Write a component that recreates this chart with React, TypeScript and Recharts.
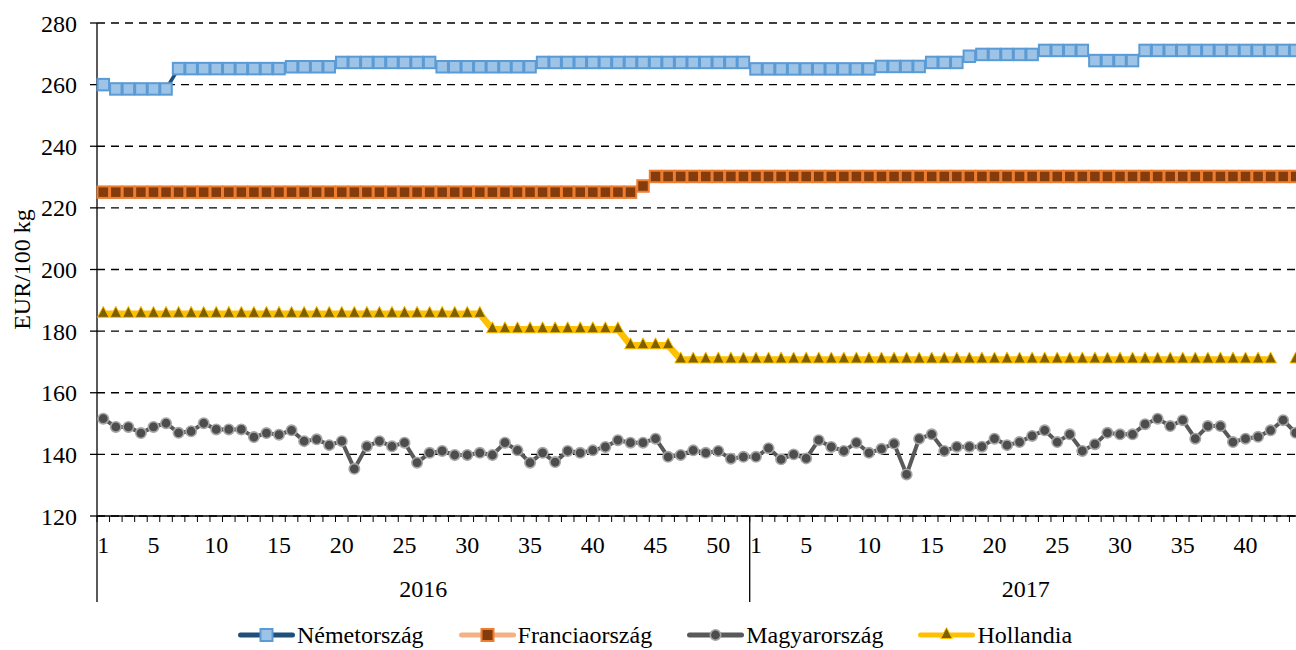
import React from 'react';
import { LineChart, Line, XAxis, YAxis, CartesianGrid, Legend } from 'recharts';

// ---- data ----
const years = [2016, 2017];
const weeks2016 = [1,2,3,4,5,6,7,8,9,10,11,12,13,14,15,16,17,18,19,20,21,22,23,24,25,26,27,28,29,30,31,32,33,34,35,36,37,38,39,40,41,42,43,44,45,46,47,48,49,50,51,52];
const weeks2017 = [1,2,3,4,5,6,7,8,9,10,11,12,13,14,15,16,17,18,19,20,21,22,23,24,25,26,27,28,29,30,31,32,33,34,35,36,37,38,39,40,41,42,43,44];
const weekLabels = [1, 5, 10, 15, 20, 25, 30, 35, 40, 45, 50];
const yTicks = [120, 140, 160, 180, 200, 220, 240, 260, 280];

const nemetorszag = [
  260, 258.6, 258.6, 258.6, 258.6, 258.6, 265.2, 265.2, 265.2, 265.2,
  265.2, 265.2, 265.2, 265.2, 265.2, 265.8, 265.8, 265.8, 265.8, 267.2,
  267.2, 267.2, 267.2, 267.2, 267.2, 267.2, 267.2, 265.8, 265.8, 265.8,
  265.8, 265.8, 265.8, 265.8, 265.8, 267.2, 267.2, 267.2, 267.2, 267.2,
  267.2, 267.2, 267.2, 267.2, 267.2, 267.2, 267.2, 267.2, 267.2, 267.2,
  267.2, 267.2,
  265.1, 265.1, 265.1, 265.1, 265.1, 265.1, 265.1, 265.1, 265.1, 265.1,
  265.9, 265.9, 265.9, 265.9, 267.2, 267.2, 267.2, 269.2, 269.8, 269.8,
  269.8, 269.8, 269.8, 271.1, 271.1, 271.1, 271.1, 267.8, 267.8, 267.8,
  267.8, 271.1, 271.1, 271.1, 271.1, 271.1, 271.1, 271.1, 271.1, 271.1,
  271.1, 271.1, 271.1, 271.1,
];
const franciaorszag = [
  225.1, 225.1, 225.1, 225.1, 225.1, 225.1, 225.1, 225.1, 225.1, 225.1,
  225.1, 225.1, 225.1, 225.1, 225.1, 225.1, 225.1, 225.1, 225.1, 225.1,
  225.1, 225.1, 225.1, 225.1, 225.1, 225.1, 225.1, 225.1, 225.1, 225.1,
  225.1, 225.1, 225.1, 225.1, 225.1, 225.1, 225.1, 225.1, 225.1, 225.1,
  225.1, 225.1, 225.1, 227.1, 230.2, 230.2, 230.2, 230.2, 230.2, 230.2,
  230.2, 230.2,
  230.2, 230.2, 230.2, 230.2, 230.2, 230.2, 230.2, 230.2, 230.2, 230.2,
  230.2, 230.2, 230.2, 230.2, 230.2, 230.2, 230.2, 230.2, 230.2, 230.2,
  230.2, 230.2, 230.2, 230.2, 230.2, 230.2, 230.2, 230.2, 230.2, 230.2,
  230.2, 230.2, 230.2, 230.2, 230.2, 230.2, 230.2, 230.2, 230.2, 230.2,
  230.2, 230.2, 230.2, 230.2,
];
const magyarorszag = [
  151.6, 148.9, 148.9, 146.9, 148.9, 150.1, 147.0, 147.5, 150.1, 148.1,
  148.1, 148.1, 145.6, 146.9, 146.4, 147.8, 144.3, 144.9, 143.0, 144.3,
  135.3, 142.6, 144.3, 142.6, 143.8, 137.3, 140.5, 141.1, 139.8, 139.8,
  140.5, 139.8, 143.8, 141.3, 137.3, 140.5, 137.5, 141.1, 140.5, 141.3,
  142.4, 144.6, 143.8, 143.8, 145.1, 139.2, 139.8, 141.3, 140.5, 141.1,
  138.6, 139.2,
  139.2, 142.0, 138.4, 140.0, 138.7, 144.6, 142.4, 141.1, 143.8, 140.5,
  141.8, 143.5, 133.5, 145.1, 146.5, 141.1, 142.5, 142.5, 142.5, 145.1,
  143.0, 144.0, 146.0, 147.8, 144.0, 146.5, 141.1, 143.3, 147.0, 146.5,
  146.5, 149.8, 151.6, 149.2, 151.1, 145.1, 149.2, 149.2, 144.0, 145.1,
  145.7, 147.8, 151.1, 147.0,
];
const hollandia: (number | null)[] = [
  185.6, 185.6, 185.6, 185.6, 185.6, 185.6, 185.6, 185.6, 185.6, 185.6,
  185.6, 185.6, 185.6, 185.6, 185.6, 185.6, 185.6, 185.6, 185.6, 185.6,
  185.6, 185.6, 185.6, 185.6, 185.6, 185.6, 185.6, 185.6, 185.6, 185.6,
  185.6, 180.6, 180.6, 180.6, 180.6, 180.6, 180.6, 180.6, 180.6, 180.6,
  180.6, 180.6, 175.4, 175.4, 175.4, 175.4, 170.8, 170.8, 170.8, 170.8,
  170.8, 170.8,
  170.8, 170.8, 170.8, 170.8, 170.8, 170.8, 170.8, 170.8, 170.8, 170.8,
  170.8, 170.8, 170.8, 170.8, 170.8, 170.8, 170.8, 170.8, 170.8, 170.8,
  170.8, 170.8, 170.8, 170.8, 170.8, 170.8, 170.8, 170.8, 170.8, 170.8,
  170.8, 170.8, 170.8, 170.8, 170.8, 170.8, 170.8, 170.8, 170.8, 170.8,
  170.8, 170.8, null, 170.8,
];

// ---- chart table built from the arrays ----
const yearWeeks = [weeks2016, weeks2017];
const rows: any[] = [];
years.forEach((yr, yi) => {
  yearWeeks[yi].forEach((w) => {
    rows.push({ key: `${yr}-${w}`, year: yr, week: w });
  });
});
rows.forEach((r, i) => {
  r.nemetorszag = nemetorszag[i];
  r.franciaorszag = franciaorszag[i];
  r.magyarorszag = magyarorszag[i];
  r.hollandia = hollandia[i];
});

const yearStart: number[] = [];
let acc = 0;
yearWeeks.forEach((ws) => { yearStart.push(acc); acc += ws.length; });

const FONT = "'Liberation Serif', 'DejaVu Serif', serif";
const FS = 24;

const CHART_W = 1304;
const CHART_H = 650;
const MARGIN = { top: 23, right: 2, left: 0, bottom: 2 };
const Y_AXIS_W = 97;
const PLOT_W = CHART_W - MARGIN.left - MARGIN.right - Y_AXIS_W;

// ---- markers ----
const squareDot = (fill: string, stroke: string) => (p: any) => {
  const { cx, cy, index } = p;
  if (cx == null || cy == null || p.value == null) return <g key={`s-${fill}-${index}`} />;
  return (
    <rect key={`s-${fill}-${index}`} x={cx - 5.75} y={cy - 5.75} width={11.5} height={11.5}
      fill={fill} stroke={stroke} strokeWidth={2} />
  );
};
const circleDot = (fill: string, stroke: string) => (p: any) => {
  const { cx, cy, index } = p;
  if (cx == null || cy == null || p.value == null) return <g key={`c-${index}`} />;
  return <circle key={`c-${index}`} cx={cx} cy={cy} r={5.2} fill={fill} stroke={stroke} strokeWidth={1.6} />;
};
const triangleDot = (fill: string, stroke: string) => (p: any) => {
  const { cx, cy, index } = p;
  if (cx == null || cy == null || p.value == null) return <g key={`t-${index}`} />;
  const pts = `${cx},${cy - 7.5} ${cx + 5.8},${cy + 3.5} ${cx - 5.8},${cy + 3.5}`;
  return <polygon key={`t-${index}`} points={pts} fill={fill} stroke={stroke} strokeWidth={1} />;
};

const series = [
  { key: 'nemetorszag', name: 'Németország', line: '#1F4E79', width: 3.5, marker: 'square', fill: '#9DC3E6', stroke: '#5B9BD5' },
  { key: 'franciaorszag', name: 'Franciaország', line: '#F4B183', width: 3.5, marker: 'square', fill: '#843C0C', stroke: '#ED7D31' },
  { key: 'magyarorszag', name: 'Magyarország', line: '#595959', width: 4, marker: 'circle', fill: '#4D4D4D', stroke: '#A6A6A6' },
  { key: 'hollandia', name: 'Hollandia', line: '#FFC000', width: 6.5, marker: 'triangle', fill: '#7F6000', stroke: '#FFC000' },
];

const dotFor = (s: any) =>
  s.marker === 'square' ? squareDot(s.fill, s.stroke)
    : s.marker === 'circle' ? circleDot(s.fill, s.stroke)
      : triangleDot(s.fill, s.stroke);

// ---- x axis tick: week tick marks, week labels, year separators and year labels ----
const XTick = (props: any) => {
  const { x, y, payload } = props;
  const idx = payload?.index ?? props.index;
  const row = rows[idx];
  if (!row) return <g />;
  const half = payload?.offset ?? PLOT_W / rows.length / 2;
  const yi = years.indexOf(row.year);
  const start = yearStart[yi];
  const n = yearWeeks[yi].length;
  const local = idx - start;
  const isFirst = local === 0;
  let yearX: number | null = null;
  if (n % 2 === 0 && local === n / 2 - 1) yearX = x + half;
  if (n % 2 === 1 && local === (n - 1) / 2) yearX = x;
  return (
    <g>
      <line x1={x - half} x2={x - half} y1={y} y2={y + 6} stroke="#000" strokeWidth={1} />
      {weekLabels.includes(row.week) && (
        <text x={x} y={y + 37} textAnchor="middle" style={{ fontFamily: FONT }} fontSize={FS} fill="#000">
          {row.week}
        </text>
      )}
      {isFirst && (
        <line x1={x - half} x2={x - half} y1={y} y2={y + 86} stroke="#000" strokeWidth={1.3} />
      )}
      {yearX !== null && (
        <text x={yearX} y={y + 81} textAnchor="middle" style={{ fontFamily: FONT }} fontSize={FS} fill="#000">
          {row.year}
        </text>
      )}
    </g>
  );
};

const YLabel = (p: any) => {
  const vb = p.viewBox || { x: 0, y: MARGIN.top, width: Y_AXIS_W, height: 493 };
  const lx = vb.x + 30;
  const ly = vb.y + vb.height / 2;
  return (
    <text x={lx} y={ly} transform={`rotate(-90, ${lx}, ${ly})`} textAnchor="middle"
      style={{ fontFamily: FONT }} fontSize={FS} fill="#000">
      EUR/100 kg
    </text>
  );
};

const LegendIcon = ({ s }: { s: any }) => (
  <svg width={57} height={20} style={{ display: 'block' }}>
    <line x1={2.5} x2={54.5} y1={10} y2={10} stroke={s.line} strokeWidth={5} strokeLinecap="round" />
    {s.marker === 'square' && (
      <rect x={22.5} y={4} width={12} height={12} fill={s.fill} stroke={s.stroke} strokeWidth={2} />
    )}
    {s.marker === 'circle' && (
      <circle cx={28.5} cy={10} r={5.2} fill={s.fill} stroke={s.stroke} strokeWidth={1.6} />
    )}
    {s.marker === 'triangle' && (
      <polygon points="28.5,2.5 34.3,13.5 22.7,13.5" fill={s.fill} stroke={s.stroke} strokeWidth={1} />
    )}
  </svg>
);

const LegendContent = () => (
  <div style={{ display: 'flex', justifyContent: 'center', alignItems: 'center', height: 26, paddingLeft: 8 }}>
    {series.map((s, i) => (
      <div key={s.key} style={{ display: 'flex', alignItems: 'center', marginRight: i < series.length - 1 ? 35 : 0 }}>
        <LegendIcon s={s} />
        <span style={{ fontFamily: FONT, fontSize: FS, color: '#000', marginLeft: 2, lineHeight: '26px' }}>{s.name}</span>
      </div>
    ))}
  </div>
);

export default function App() {
  return (
    <div style={{ position: 'absolute', left: 0, top: 0, width: 1296, height: 650, overflow: 'hidden', background: '#fff', fontFamily: FONT }}>
      <LineChart width={CHART_W} height={CHART_H} data={rows} margin={MARGIN} style={{ fontFamily: FONT }}>
        <CartesianGrid horizontal vertical={false} stroke="#000" strokeWidth={1.4} strokeDasharray="8 6" />
        <XAxis
          dataKey="key"
          type="category"
          scale="band"
          interval={0}
          height={106}
          tickLine={false}
          tickSize={0}
          tickMargin={0}
          axisLine={{ stroke: '#000', strokeWidth: 1.3 }}
          tick={<XTick />}
        />
        <YAxis
          width={Y_AXIS_W}
          domain={[120, 280]}
          ticks={yTicks}
          interval={0}
          tickSize={7}
          tickMargin={13}
          axisLine={{ stroke: '#000', strokeWidth: 1.3 }}
          tickLine={{ stroke: '#000', strokeWidth: 1.3 }}
          tick={{ style: { fontFamily: FONT }, fontFamily: FONT, fontSize: FS, fill: '#000' }}
          label={{ content: <YLabel /> }}
        />
        <Legend verticalAlign="bottom" content={<LegendContent />} />
        {series.map((s) => (
          <Line
            key={s.key}
            dataKey={s.key}
            name={s.name}
            type="linear"
            stroke={s.line}
            strokeWidth={s.width}
            dot={dotFor(s)}
            activeDot={false}
            connectNulls={false}
            isAnimationActive={false}
          />
        ))}
      </LineChart>
    </div>
  );
}
